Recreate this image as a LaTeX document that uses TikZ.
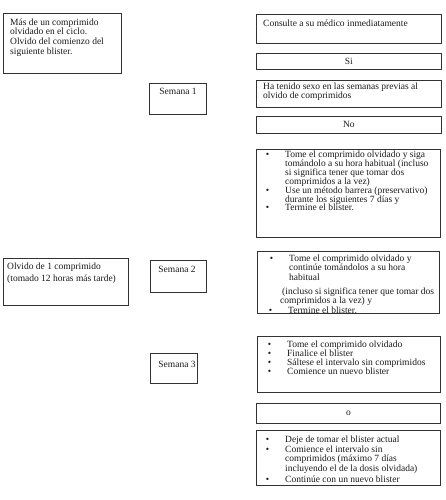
\documentclass[tikz,border=0pt]{standalone}
\usepackage{fontspec}
\setmainfont{Liberation Serif}
\begin{document}
\begin{tikzpicture}[x=1pt,y=-1pt,
  box/.style={draw=black!80, line width=0.75pt, inner sep=0pt, anchor=north west},
  txt/.style={inner sep=0pt, anchor=north west, align=left, text=black!90},
  ctxt/.style={inner sep=0pt, anchor=center, text=black!90, font=\fontsize{9.5}{9.5}\selectfont}]
\newcommand{\bul}{\llap{\textbullet\hspace*{16pt}}}
\useasboundingbox (0,0) rectangle (446,500);
% left column
\node[box, minimum width=118pt, minimum height=60pt] (b1) at (3,13) {};
\node[txt, font=\fontsize{9.5}{9.7}\selectfont] (t1) at ([shift={(7,5.4)}]b1.north west)
  {Más de un comprimido\\olvidado en el ciclo.\\Olvido del comienzo del\\siguiente blister.};
\node[box, minimum width=125pt, minimum height=47pt] (b2) at (3,258) {};
\node[txt, font=\fontsize{9.5}{12}\selectfont] (t2) at ([shift={(4,4.7)}]b2.north west)
  {Olvido de 1 comprimido\\(tomado 12 horas más tarde)};
% week column
\node[box, minimum width=57pt, minimum height=31pt] (s1) at (149,83) {};
\node[ctxt] (ts1) at (178,91) {Semana 1};
\node[box, minimum width=56pt, minimum height=32pt] (s2) at (150,260) {};
\node[ctxt] (ts2) at (177,269) {Semana 2};
\node[box, minimum width=47pt, minimum height=30pt] (s3) at (150,353) {};
\node[ctxt] (ts3) at (177,364) {Semana 3};
% right column
\node[box, minimum width=185pt, minimum height=29pt] (r1) at (256,14) {};
\node[txt, font=\fontsize{9.5}{9.5}\selectfont] (tr1) at ([shift={(7,5.7)}]r1.north west)
  {Consulte a su médico inmediatamente};
\node[box, minimum width=185pt, minimum height=16pt] (r2) at (256,53) {};
\node[ctxt] (tr2) at (r2.center) {Si};
\node[box, minimum width=185pt, minimum height=27pt] (r3) at (256,80) {};
\node[txt, font=\fontsize{9.5}{9.3}\selectfont] (tr3) at ([shift={(7,2.7)}]r3.north west)
  {Ha tenido sexo en las semanas previas al\\olvido de comprimidos};
\node[box, minimum width=185pt, minimum height=17pt] (r4) at (256,116) {};
\node[ctxt] (tr4) at (r4.center) {No};
\node[box, minimum width=184pt, minimum height=88pt] (r5) at (256,149) {};
\node[txt, font=\fontsize{9.5}{8.7}\selectfont] (tr5) at (285,150.7)
  {\bul Tome el comprimido olvidado y siga\\tomándolo a su hora habitual (incluso\\si significa tener que tomar dos\\comprimidos a la vez)\\
   \bul Use un método barrera (preservativo)\\durante los siguientes 7 días y\\\bul Termine el blister.};
\node[box, minimum width=182pt, minimum height=62pt] (r6) at (257,251) {};
\node[txt, font=\fontsize{9.5}{9.5}\selectfont] (tr6a) at (289,254.7)
  {\bul Tome el comprimido olvidado y\\continúe tomándolos a su hora\\habitual};
\node[txt, font=\fontsize{9.5}{9.2}\selectfont] (tr6b) at (280,287.7)
  {\hspace*{2pt}(incluso si significa tener que tomar dos\\comprimidos a la vez) y};
\node[txt, font=\fontsize{9.5}{9.5}\selectfont] (tr6c) at (288,306.7)
  {\bul Termine el blister.};
\node[box, minimum width=183pt, minimum height=56pt] (r7) at (257,336) {};
\node[txt, font=\fontsize{9.5}{9}\selectfont] (tr7) at (287,340.7)
  {\bul Tome el comprimido olvidado\\\bul Finalice el blister\\\bul Sáltese el intervalo sin comprimidos\\\bul Comience un nuevo blister};
\node[box, minimum width=184pt, minimum height=20pt] (r8) at (256,403) {};
\node[ctxt] (tr8) at (r8.center) {o};
\node[box, minimum width=184pt, minimum height=55pt] (r9) at (256,430) {};
\node[txt, font=\fontsize{9.5}{9.6}\selectfont] (tr9) at (285,435.7)
  {\bul Deje de tomar el blister actual\\\bul Comience el intervalo sin\\comprimidos (máximo 7 días\\incluyendo el de la dosis olvidada)\\[2pt]\bul Continúe con un nuevo blister};
\end{tikzpicture}
\end{document}
